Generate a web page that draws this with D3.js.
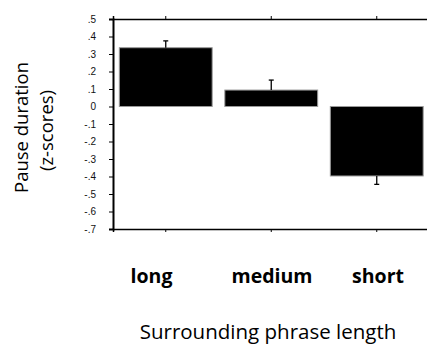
<!DOCTYPE html>
<html>
<head>
<meta charset="utf-8">
<script src="https://d3js.org/d3.v7.min.js"></script>
<style>
body { margin: 0; background: white; }
</style>
</head>
<body>
<svg width="427" height="345"></svg>
<script>
// chart values
var categories = ["long", "medium", "short"];
var means = [0.336, 0.094, -0.397];
var errors = [0.039, 0.057, 0.048];
var yTicks = [0.5, 0.4, 0.3, 0.2, 0.1, 0, -0.1, -0.2, -0.3, -0.4, -0.5, -0.6, -0.7];

var svg = d3.select("svg");
var plotLeft = 113, plotRight = 429.5, plotTop = 19, plotBottom = 229;

var x = d3.scaleBand().domain(categories).range([plotLeft, plotRight])
    .paddingInner(0.12).paddingOuter(0.06);
var y = d3.scaleLinear().domain([-0.7, 0.5]).range([plotBottom, plotTop]);

// ".5", "0", "-.1" style labels
function fmt(d) {
  if (Math.abs(d) < 1e-9) return "0";
  var s = Math.abs(d).toFixed(1).replace("0.", ".");
  return (d < 0 ? "-" : "") + s;
}

// bars
svg.append("g").selectAll("rect").data(means).enter().append("rect")
  .attr("x", function(d, i) { return x(categories[i]); })
  .attr("width", x.bandwidth())
  .attr("y", function(d) { return y(Math.max(0, d)); })
  .attr("height", function(d) { return Math.abs(y(d) - y(0)); })
  .attr("fill", "black")
  .attr("stroke", "#999")
  .attr("stroke-width", 1);

// error bars
var eb = svg.append("g").attr("stroke", "black").attr("stroke-width", 1.3);
means.forEach(function(m, i) {
  var cx = x(categories[i]) + x.bandwidth() / 2;
  var end = m >= 0 ? m + errors[i] : m - errors[i];
  eb.append("line").attr("x1", cx).attr("x2", cx).attr("y1", y(m)).attr("y2", y(end));
  eb.append("line").attr("x1", cx - 2.5).attr("x2", cx + 2.5).attr("y1", y(end)).attr("y2", y(end));
});

// y axis
svg.append("g")
  .attr("transform", "translate(" + plotLeft + ",0)")
  .call(d3.axisLeft(y).tickValues(yTicks).tickFormat(fmt).tickSize(4).tickPadding(13))
  .call(function(g) {
    g.select(".domain").attr("stroke-width", 2);
    g.selectAll("text").attr("font-family", "Liberation Sans, Arial, sans-serif").attr("font-size", 10).attr("fill", "#111");
  });

// top and bottom frame with ticks at category centres
svg.append("g")
  .attr("transform", "translate(0," + plotTop + ")")
  .call(d3.axisTop(x).tickSize(3).tickFormat(""))
  .call(function(g) { g.select(".domain").attr("stroke-width", 1.5); });
svg.append("g")
  .attr("transform", "translate(0," + plotBottom + ")")
  .call(d3.axisBottom(x).tickSize(3).tickFormat(""))
  .call(function(g) { g.select(".domain").attr("stroke-width", 1.5); });

// category labels
var labelX = [151.5, 272, 378];
svg.append("g").selectAll("text").data(categories).enter().append("text")
  .attr("x", function(d, i) { return labelX[i]; })
  .attr("y", 283)
  .attr("text-anchor", "middle")
  .attr("font-family", "Open Sans, sans-serif")
  .attr("font-weight", "bold")
  .attr("font-size", 19.5)
  .text(function(d) { return d; });

// axis titles
svg.append("text")
  .attr("x", 268).attr("y", 339)
  .attr("text-anchor", "middle")
  .attr("font-family", "Open Sans, sans-serif")
  .attr("font-size", 20.5)
  .text("Surrounding phrase length");

svg.append("text")
  .attr("transform", "translate(28,127.5)rotate(-90)")
  .attr("text-anchor", "middle")
  .attr("font-family", "Open Sans, sans-serif")
  .attr("font-size", 18.5)
  .text("Pause duration");
svg.append("text")
  .attr("transform", "translate(53,130.5)rotate(-90)")
  .attr("text-anchor", "middle")
  .attr("font-family", "Open Sans, sans-serif")
  .attr("font-size", 18.5)
  .text("(z-scores)");
</script>
</body>
</html>
